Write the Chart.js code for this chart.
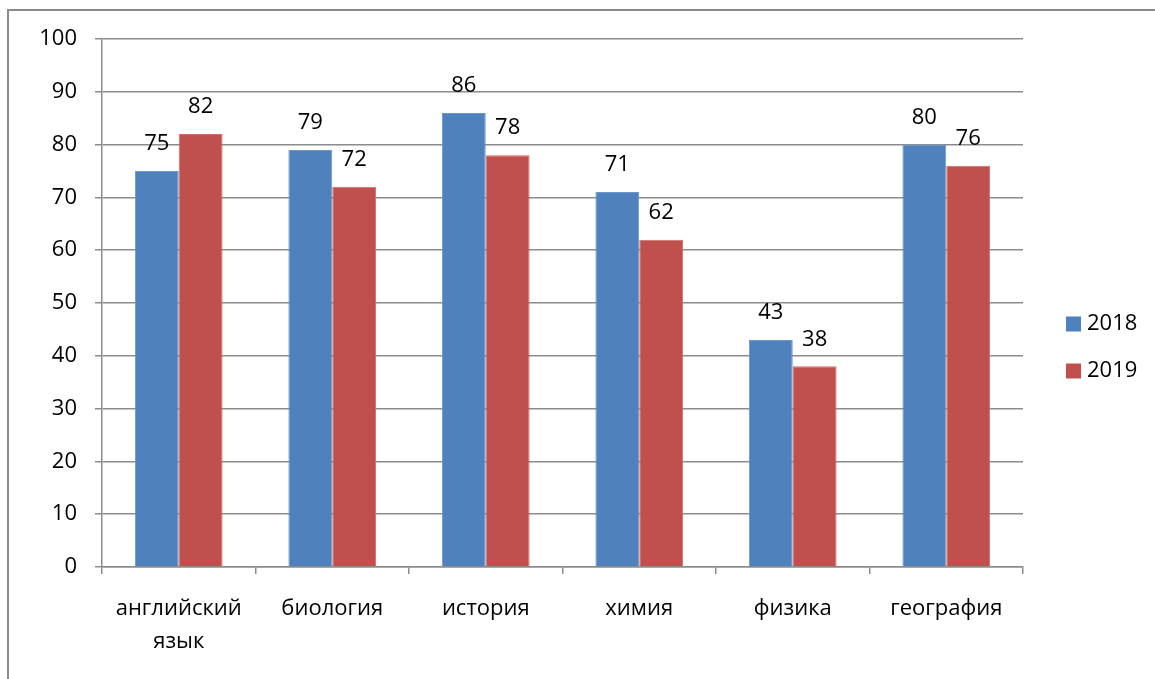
<!doctype html>
<html>

<head>
    <meta charset="utf-8">
    <title>2018 - 2019</title>
    <script src="https://cdn.jsdelivr.net/npm/chart.js@4"></script>
    <style>
    html, body {
        margin: 0;
        padding: 0;
        overflow: hidden;
        background: #fff;
    }
    #frame {
        position: absolute;
        left: 7px;
        top: 9px;
        width: 1200px;
        height: 720px;
        border: 2px solid #8a8a8a;
    }
    #wrap {
        position: absolute;
        left: 0;
        top: 0;
        width: 1155px;
        height: 679px;
    }
    </style>
</head>

<body>
    <div id="frame"></div>
    <div id="wrap">
        <canvas id="canvas" width="1155" height="679"></canvas>
    </div>

    <script>
        var categories = [["английский", "язык"], "биология", "история", "химия", "физика", "география"];
        var values2018 = [75, 79, 86, 71, 43, 80];
        var values2019 = [82, 72, 78, 62, 38, 76];
        var seriesLabels = ["2018", "2019"];
        var yTicks = [0, 10, 20, 30, 40, 50, 60, 70, 80, 90, 100];

        var fontFamily = "'Open Sans', 'Noto Sans', sans-serif";
        var gridColor = '#8c8c8c';

        // values above each bar
        var valueLabels = {
            id: 'valueLabels',
            afterDatasetsDraw: function(chart) {
                var ctx = chart.ctx;
                ctx.save();
                ctx.fillStyle = '#000';
                ctx.font = '22px ' + fontFamily;
                ctx.textAlign = 'center';
                ctx.textBaseline = 'middle';
                chart.data.datasets.forEach(function(dataset, i) {
                    var meta = chart.getDatasetMeta(i);
                    meta.data.forEach(function(bar, index) {
                        ctx.fillText(dataset.data[index].toString(), bar.x, bar.y - 27);
                    });
                });
                ctx.restore();
            }
        };

        // legend on the right, drawn by hand so the plot area keeps its width
        var sideLegend = {
            id: 'sideLegend',
            afterDraw: function(chart) {
                var ctx = chart.ctx;
                ctx.save();
                ctx.font = '22px ' + fontFamily;
                ctx.textBaseline = 'middle';
                ctx.textAlign = 'left';
                chart.data.datasets.forEach(function(dataset, i) {
                    var cy = 324 + i * 47;
                    ctx.fillStyle = dataset.backgroundColor;
                    ctx.fillRect(1066, cy - 7.5, 15, 15);
                    ctx.fillStyle = '#000';
                    ctx.fillText(dataset.label, 1087, cy);
                });
                ctx.restore();
            }
        };

        window.onload = function() {
            var ctx = document.getElementById("canvas").getContext("2d");
            window.myBar = new Chart(ctx, {
                type: 'bar',
                data: {
                    labels: categories,
                    datasets: [{
                        label: seriesLabels[0],
                        backgroundColor: '#4f81bd',
                        borderColor: '#6d97cc',
                        borderWidth: 1,
                        data: values2018
                    }, {
                        label: seriesLabels[1],
                        backgroundColor: '#c0504d',
                        borderColor: '#cf6e6b',
                        borderWidth: 1,
                        data: values2019
                    }]
                },
                plugins: [valueLabels, sideLegend],
                options: {
                    responsive: false,
                    animation: false,
                    categoryPercentage: 2 / 3.5,
                    barPercentage: 1,
                    layout: {
                        padding: { left: 0, right: 132, top: 39, bottom: 0 }
                    },
                    plugins: {
                        legend: { display: false },
                        tooltip: { enabled: false },
                        title: { display: false }
                    },
                    scales: {
                        x: {
                            afterFit: function(scale) { scale.height = 112; },
                            grid: {
                                offset: true,
                                drawOnChartArea: false,
                                drawTicks: true,
                                tickLength: 7,
                                color: gridColor,
                                lineWidth: 1.5
                            },
                            border: { display: true, color: gridColor, width: 1.5 },
                            ticks: {
                                color: '#000',
                                maxRotation: 0,
                                autoSkip: false,
                                padding: 18,
                                font: { family: fontFamily, size: 22, lineHeight: 1.5 }
                            }
                        },
                        y: {
                            min: 0,
                            max: 100,
                            afterFit: function(scale) { scale.width = 102; },
                            afterBuildTicks: function(scale) {
                                scale.ticks = yTicks.map(function(v) { return { value: v }; });
                            },
                            grid: {
                                color: gridColor,
                                lineWidth: 1.5,
                                drawTicks: true,
                                tickLength: 7
                            },
                            border: { display: true, color: gridColor, width: 1.5 },
                            ticks: {
                                color: '#000',
                                padding: 18,
                                font: { family: fontFamily, size: 22 }
                            }
                        }
                    }
                }
            });
        };
    </script>
</body>

</html>
